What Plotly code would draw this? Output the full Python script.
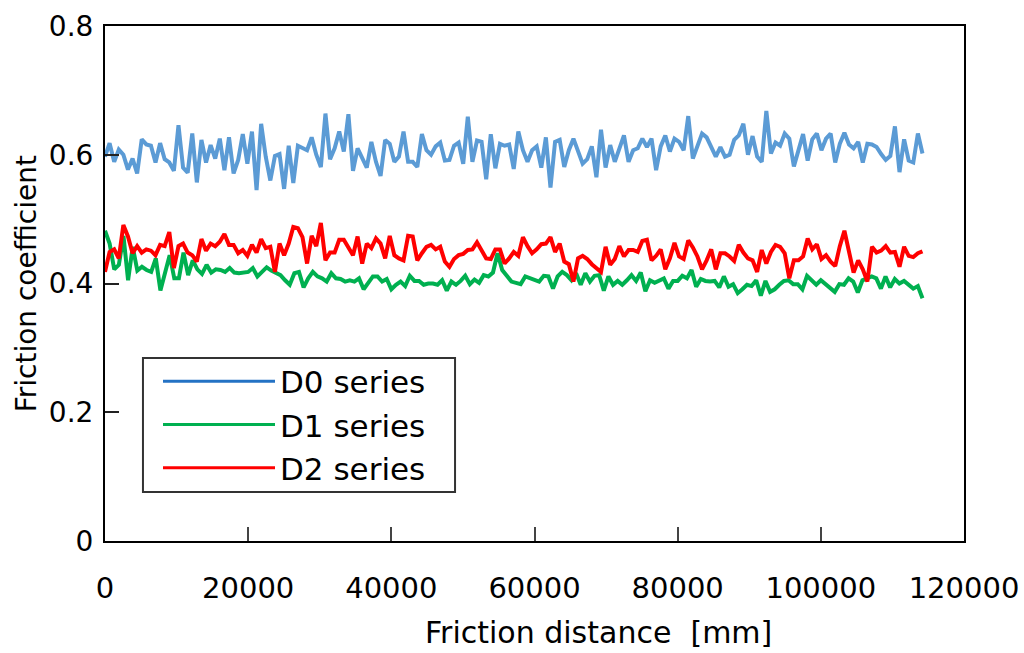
import numpy as np
import plotly.graph_objects as go

# ---- data ----
d0_series = [
    0.597, 0.618, 0.589, 0.608, 0.600, 0.577, 0.594, 0.571, 0.624, 0.616, 0.614, 0.588, 0.618, 0.593, 0.588,
    0.575, 0.646, 0.580, 0.572, 0.633, 0.557, 0.623, 0.588, 0.615, 0.594, 0.625, 0.576, 0.627, 0.571, 0.592,
    0.632, 0.586, 0.636, 0.545, 0.648, 0.597, 0.560, 0.598, 0.601, 0.547, 0.614, 0.556, 0.614, 0.610, 0.607,
    0.627, 0.600, 0.581, 0.664, 0.593, 0.610, 0.636, 0.605, 0.663, 0.575, 0.610, 0.594, 0.580, 0.620, 0.589,
    0.567, 0.623, 0.617, 0.589, 0.597, 0.636, 0.589, 0.589, 0.581, 0.632, 0.607, 0.600, 0.613, 0.619, 0.591,
    0.592, 0.614, 0.619, 0.586, 0.659, 0.589, 0.622, 0.620, 0.562, 0.632, 0.579, 0.617, 0.614, 0.616, 0.578,
    0.636, 0.607, 0.589, 0.607, 0.613, 0.580, 0.627, 0.549, 0.620, 0.623, 0.581, 0.607, 0.625, 0.606, 0.586,
    0.593, 0.613, 0.565, 0.639, 0.580, 0.615, 0.589, 0.608, 0.630, 0.589, 0.607, 0.610, 0.625, 0.612, 0.625,
    0.576, 0.613, 0.630, 0.605, 0.625, 0.620, 0.607, 0.660, 0.594, 0.615, 0.633, 0.627, 0.612, 0.597, 0.612,
    0.597, 0.600, 0.623, 0.630, 0.648, 0.600, 0.629, 0.597, 0.589, 0.668, 0.602, 0.619, 0.614, 0.633, 0.625,
    0.582, 0.607, 0.632, 0.591, 0.624, 0.633, 0.607, 0.625, 0.633, 0.588, 0.617, 0.634, 0.616, 0.610, 0.620,
    0.588, 0.617, 0.616, 0.612, 0.601, 0.592, 0.598, 0.644, 0.573, 0.624, 0.591, 0.588, 0.633, 0.602,
]

d1_series = [
    0.482, 0.462, 0.422, 0.429, 0.474, 0.405, 0.457, 0.420, 0.426, 0.421, 0.418, 0.439, 0.389, 0.418, 0.444,
    0.408, 0.408, 0.448, 0.413, 0.436, 0.422, 0.415, 0.429, 0.417, 0.422, 0.421, 0.418, 0.424, 0.417, 0.416,
    0.417, 0.418, 0.424, 0.411, 0.418, 0.425, 0.420, 0.416, 0.413, 0.405, 0.398, 0.416, 0.418, 0.394, 0.408,
    0.418, 0.411, 0.408, 0.403, 0.416, 0.408, 0.407, 0.403, 0.405, 0.403, 0.408, 0.391, 0.401, 0.411, 0.411,
    0.403, 0.407, 0.391, 0.398, 0.403, 0.396,
    0.412, 0.404, 0.404, 0.398, 0.400, 0.400, 0.398, 0.405, 0.389, 0.403, 0.398, 0.404, 0.412, 0.399, 0.406,
    0.401, 0.413, 0.411, 0.417, 0.447, 0.421, 0.412, 0.403, 0.401, 0.399, 0.411, 0.408, 0.405, 0.403, 0.412,
    0.411, 0.392, 0.411, 0.418, 0.413, 0.405, 0.416, 0.398, 0.416, 0.403, 0.412, 0.413, 0.389, 0.411, 0.398,
    0.404, 0.398, 0.405, 0.413, 0.404, 0.417, 0.388, 0.405,
    0.401, 0.404, 0.408, 0.392, 0.404, 0.404, 0.412, 0.408, 0.421, 0.395, 0.407, 0.404, 0.403, 0.404, 0.394,
    0.411, 0.395, 0.399, 0.385, 0.391, 0.398, 0.396, 0.405, 0.381, 0.404, 0.387, 0.391, 0.398, 0.404, 0.405,
    0.399, 0.399, 0.391, 0.412, 0.404, 0.398, 0.405, 0.399, 0.395, 0.387, 0.399, 0.398, 0.408, 0.403, 0.386,
    0.405, 0.408, 0.411, 0.408, 0.392, 0.411, 0.394, 0.407, 0.400, 0.404, 0.398, 0.392, 0.396, 0.377,
]

d2_series = [
    0.418, 0.449, 0.453, 0.439, 0.491, 0.473, 0.447, 0.458, 0.448, 0.453, 0.451, 0.444, 0.460, 0.458, 0.480,
    0.424, 0.458, 0.462, 0.448, 0.444, 0.434, 0.469, 0.451, 0.462, 0.458, 0.465, 0.477, 0.460, 0.460, 0.447,
    0.452, 0.443, 0.460, 0.448, 0.469, 0.455, 0.457, 0.418, 0.462, 0.444, 0.462, 0.488, 0.486, 0.472, 0.431,
    0.474, 0.458, 0.494, 0.436, 0.448, 0.448, 0.468, 0.468, 0.457, 0.444, 0.473, 0.431, 0.462, 0.455, 0.470,
    0.462, 0.439, 0.474, 0.444, 0.439, 0.436,
    0.474, 0.473, 0.436, 0.447, 0.457, 0.460, 0.453, 0.457, 0.434, 0.426, 0.438, 0.444, 0.446, 0.452, 0.453,
    0.464, 0.452, 0.439, 0.438, 0.453, 0.453, 0.431, 0.439, 0.449, 0.443, 0.472, 0.458, 0.447, 0.453, 0.461,
    0.462, 0.472, 0.449, 0.462, 0.434, 0.430, 0.403, 0.439, 0.443, 0.438, 0.430, 0.423, 0.418, 0.457, 0.429,
    0.438, 0.458, 0.442, 0.452, 0.452, 0.449, 0.466, 0.468, 0.436,
    0.443, 0.453, 0.422, 0.439, 0.463, 0.442, 0.438, 0.467, 0.456, 0.442, 0.422, 0.436, 0.453, 0.422, 0.447,
    0.447, 0.442, 0.435, 0.460, 0.448, 0.439, 0.436, 0.418, 0.452, 0.431, 0.449, 0.460, 0.457, 0.447, 0.408,
    0.436, 0.436, 0.442, 0.470, 0.453, 0.461, 0.438, 0.444, 0.434, 0.427, 0.458, 0.482, 0.448, 0.417, 0.436,
    0.422, 0.403, 0.457, 0.448, 0.451, 0.458, 0.448, 0.449, 0.426, 0.457, 0.443, 0.441, 0.447, 0.450,
]

series_names = ["D0 series", "D1 series", "D2 series"]
max_distance = 114200  # mm, last sampled friction distance

x_ticks = [0, 20000, 40000, 60000, 80000, 100000, 120000]
y_ticks = [0, 0.2, 0.4, 0.6, 0.8]
y_tick_text = ["0", "0.2", "0.4", "0.6", "0.8"]

# ---- styles ----
line_colors = ["#5B9BD5", "#00B050", "#FF0000"]
legend_colors = ["#2472C4", "#00B050", "#FF0000"]
FONT = "DejaVu Sans"

fig = go.Figure()
for i, (name, vals) in enumerate(zip(series_names, [d0_series, d1_series, d2_series])):
    xs = np.linspace(0, max_distance, len(vals))
    fig.add_trace(go.Scatter(x=xs, y=vals, mode="lines", name=name,
                             legendgroup=name, showlegend=False,
                             line=dict(color=line_colors[i], width=4)))
# legend entries (the reference legend uses slightly different, thinner strokes)
for i, name in enumerate(series_names):
    fig.add_trace(go.Scatter(x=[None], y=[None], mode="lines", name=name,
                             legendgroup=name, showlegend=True,
                             line=dict(color=legend_colors[i], width=3)))

fig.update_layout(
    template="none",
    width=1024, height=653,
    margin=dict(l=105, r=60, t=26, b=112),
    paper_bgcolor="white", plot_bgcolor="white",
    font=dict(family=FONT, color="black"),
    showlegend=True,
    legend=dict(
        x=0.0617, y=0.362, xanchor="left", yanchor="top",
        borderwidth=0, bgcolor="rgba(0,0,0,0)",
        font=dict(family=FONT, size=31, color="black"),
        itemwidth=112, tracegroupgap=0,
    ),
    shapes=[
        dict(type="rect", xref="paper", yref="paper",
             x0=0.0442, x1=0.4075, y0=0.0951, y1=0.3553,
             line=dict(color="#333333", width=2), fillcolor="white", layer="above"),
    ],
    xaxis=dict(
        range=[0, 120000], tickvals=x_ticks, tickformat="d",
        ticks="inside", ticklen=14, tickwidth=1.5, tickcolor="#444444",
        showline=True, linecolor="black", linewidth=2, mirror=True,
        showgrid=False, zeroline=False, automargin=False,
        tickfont=dict(family=FONT, size=29, color="black"),
        ticklabelstandoff=20,
    ),
    yaxis=dict(
        range=[0, 0.8], tickvals=y_ticks, ticktext=y_tick_text,
        ticks="inside", ticklen=14, tickwidth=1.5, tickcolor="#222222",
        showline=True, linecolor="black", linewidth=2, mirror=True,
        showgrid=False, zeroline=False, automargin=False,
        tickfont=dict(family=FONT, size=28, color="black"),
        ticklabelstandoff=4,
    ),
    annotations=[
        dict(text="Friction distance  [mm]", xref="paper", yref="paper",
             x=0.574, y=-0.178, xanchor="center", yanchor="middle",
             showarrow=False, font=dict(family=FONT, size=30, color="black")),
        dict(text="Friction coefficient", xref="paper", yref="paper",
             x=-0.091, y=0.5, xanchor="center", yanchor="middle", textangle=-90,
             showarrow=False, font=dict(family=FONT, size=28, color="black")),
    ],
)

fig.write_html("out.html")
